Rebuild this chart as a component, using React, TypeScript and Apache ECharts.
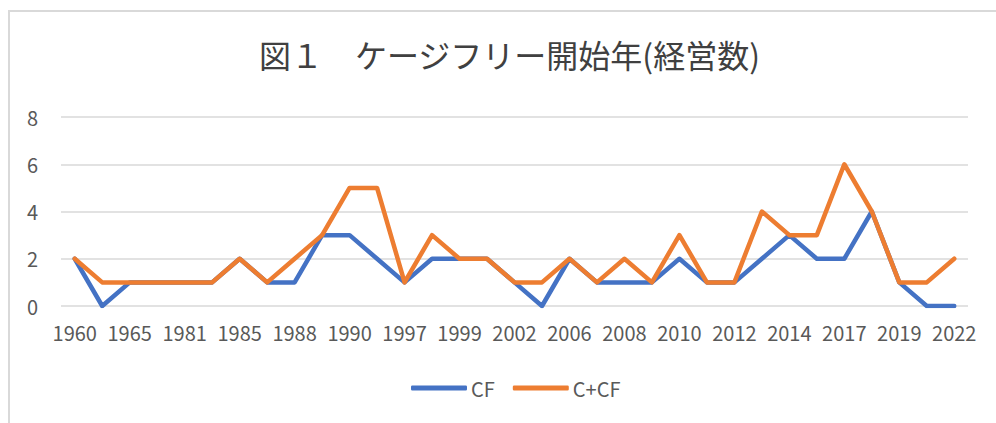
import React, { useEffect, useRef } from "react";
import * as echarts from "echarts";

const years = [
  "1960", "1963", "1965", "1975", "1981", "1983", "1985", "1987", "1988", "1989",
  "1990", "1995", "1997", "1998", "1999", "2000", "2002", "2004", "2006", "2007",
  "2008", "2009", "2010", "2011", "2012", "2013", "2014", "2015", "2017", "2018",
  "2019", "2020", "2022",
];
const cf = [2, 0, 1, 1, 1, 1, 2, 1, 1, 3, 3, 2, 1, 2, 2, 2, 1, 0, 2, 1, 1, 1, 2, 1, 1, 2, 3, 2, 2, 4, 1, 0, 0];
const ccf = [2, 1, 1, 1, 1, 1, 2, 1, 2, 3, 5, 5, 1, 3, 2, 2, 1, 1, 2, 1, 2, 1, 3, 1, 1, 4, 3, 3, 6, 4, 1, 1, 2];
const yTicks = [0, 2, 4, 6, 8];
const title = "図１　ケージフリー開始年(経営数)";

const FONT = "'Noto Sans CJK JP', 'Noto Sans', sans-serif";

export default function App() {
  const ref = useRef<HTMLDivElement>(null);
  useEffect(() => {
    if (!ref.current) return;
    const chart = echarts.init(ref.current, undefined, { renderer: "svg" });
    chart.setOption({
      animation: false,
      backgroundColor: "#ffffff",
      title: {
        text: title,
        left: 254,
        top: 33,
        textStyle: { fontFamily: FONT, fontSize: 32, fontWeight: "normal", color: "#404040" },
      },
      graphic: [
        {
          type: "rect",
          shape: { x: 9, y: 11, width: 1000, height: 430 },
          style: { fill: "none", stroke: "#d9d9d9", lineWidth: 2 },
          silent: true,
        },
      ],
      legend: {
        bottom: 20,
        left: 406,
        itemWidth: 56,
        itemHeight: 5,
        itemGap: 18,
        icon: "roundRect",
        textStyle: { fontFamily: FONT, fontSize: 20, color: "#595959", padding: [0, 0, 0, -1] },
        data: ["CF", "C+CF"],
      },
      grid: { left: 61, right: 28, top: 117, bottom: 117, containLabel: false },
      xAxis: {
        type: "category",
        data: years,
        boundaryGap: true,
        axisLine: { show: false },
        axisTick: { show: false },
        axisLabel: {
          interval: 1,
          margin: 16,
          fontFamily: FONT,
          fontSize: 20,
          color: "#595959",
        },
      },
      yAxis: {
        type: "value",
        min: 0,
        max: 8,
        interval: 2,
        axisLine: { show: false },
        axisTick: { show: false },
        splitLine: { lineStyle: { color: "#d9d9d9", width: 1.5 } },
        axisLabel: {
          margin: 23,
          fontFamily: FONT,
          fontSize: 20,
          color: "#595959",
          formatter: (v: number) => (yTicks.includes(v) ? String(v) : ""),
        },
      },
      series: [
        {
          name: "CF",
          type: "line",
          data: cf,
          showSymbol: false,
          symbol: "none",
          lineStyle: { color: "#4472C4", width: 4.5, join: "round", cap: "round" },
          itemStyle: { color: "#4472C4" },
        },
        {
          name: "C+CF",
          type: "line",
          data: ccf,
          showSymbol: false,
          symbol: "none",
          lineStyle: { color: "#ED7D31", width: 4.5, join: "round", cap: "round" },
          itemStyle: { color: "#ED7D31" },
        },
      ],
    });
    return () => chart.dispose();
  }, []);
  return (
    <div
      ref={ref}
      style={{ position: "fixed", left: 0, top: 0, width: 996, height: 423 }}
    />
  );
}
